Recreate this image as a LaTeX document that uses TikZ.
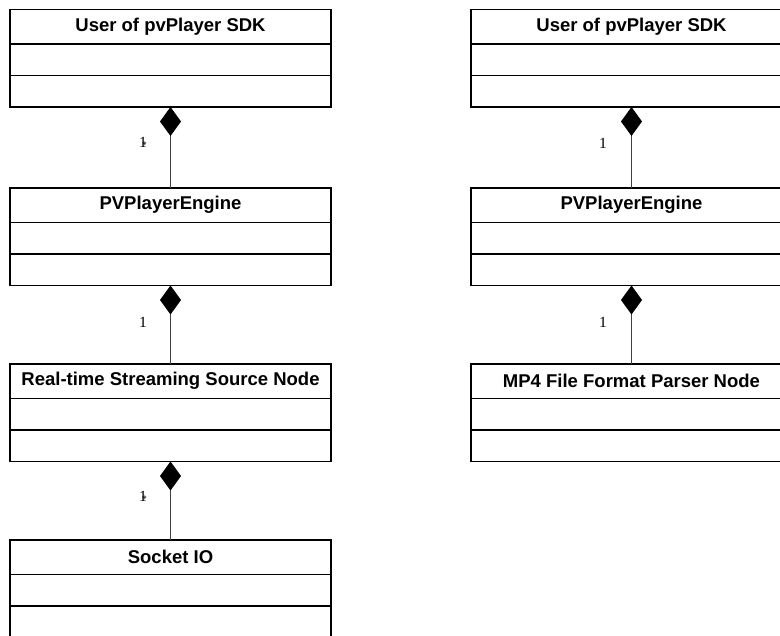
\documentclass[tikz,border=0pt]{standalone}
\usepackage{fontspec}
\setmainfont{Liberation Sans}
\newfontfamily\multfont{Liberation Serif}
\usetikzlibrary{arrows.meta}

\tikzset{
  classhead/.style={draw=black, line width=1.6pt, outer sep=0pt, inner sep=0pt,
    minimum width=321pt, minimum height=34.5pt,
    font=\fontsize{18.5}{20}\selectfont\bfseries},
  classpart/.style={draw=black, line width=1.6pt, outer sep=0pt, inner sep=0pt,
    minimum width=321pt, minimum height=31.5pt},
  compose/.style={{Diamond[width=21pt,length=29pt,color=black,fill=black]}-,
    draw=black!75, line width=1pt},
  mult/.style={font=\multfont\fontsize{15.5}{16}\selectfont, inner sep=0pt}
}

% class box: name, x, y (top), title
\newcommand{\classbox}[4]{%
  \node[classhead, anchor=north] (#1) at (#2,#3) {#4};
  \node[classpart, anchor=north] (#1-attr) at (#1.south) {};
  \node[classpart, anchor=north] (#1-ops) at (#1-attr.south) {};
}

\begin{document}
\begin{tikzpicture}[x=1pt, y=-1pt]
    \useasboundingbox (0,0) rectangle (780,636);
    \clip (0,0) rectangle (780,636);

    % streaming case
    \classbox{userA}{170.5}{9.5}{User of pvPlayer SDK}
    \classbox{engineA}{170.5}{188}{PVPlayerEngine}
    \classbox{rtsp}{170.5}{364}{Real-time Streaming Source Node}
    \classbox{socket}{170.5}{540}{Socket IO}

    % local file case
    \classbox{userB}{631.5}{9.5}{User of pvPlayer SDK}
    \classbox{engineB}{631.5}{188}{PVPlayerEngine}
    \classbox{mpfour}{631.5}{364}{MP4 File Format Parser Node}

    \draw[compose] (userA-ops.south) -- (engineA.north);
    \draw[compose] (engineA-ops.south) -- (rtsp.north);
    \draw[compose] (rtsp-ops.south) -- (socket.north);
    \draw[compose] (userB-ops.south) -- (engineB.north);
    \draw[compose] (engineB-ops.south) -- (mpfour.north);

    \node[mult] (multA) at (143,143) {1\llap{\raisebox{-1.5pt}{\fontsize{10}{10}\selectfont *}}};
    \node[mult] (multB) at (143,322) {1};
    \node[mult] (multC) at (143,497) {1\llap{\raisebox{-1.5pt}{\fontsize{10}{10}\selectfont *}}};
    \node[mult] (multD) at (603,143) {1};
    \node[mult] (multE) at (603,322) {1};
\end{tikzpicture}
\end{document}
